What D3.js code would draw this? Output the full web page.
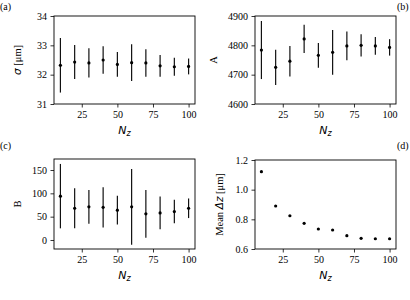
<!DOCTYPE html>
<html>
<head>
<meta charset="utf-8">
<script src="https://cdn.jsdelivr.net/npm/d3@7"></script>
<style>
  body { margin: 0; background: #fff; }
  text { font-family: "Liberation Serif", "Times New Roman", serif; fill: #000; }
  .math { font-family: "DejaVu Sans", sans-serif; font-style: italic; }
</style>
</head>
<body>
<svg id="fig" width="410" height="300"></svg>
<script>
var nz = [10, 20, 30, 40, 50, 60, 70, 80, 90, 100];
var xTicks = [25, 50, 75, 100];

var sigmaVals = [32.32, 32.43, 32.40, 32.50, 32.35, 32.41, 32.40, 32.30, 32.27, 32.28];
var sigmaErr = [0.93, 0.58, 0.50, 0.47, 0.42, 0.63, 0.47, 0.37, 0.31, 0.27];

var aVals = [4784, 4725, 4746, 4822, 4766, 4776, 4798, 4800, 4798, 4793];
var aErr = [99, 60, 52, 48, 42, 76, 49, 38, 30, 28];

var bVals = [94, 68, 71, 70, 64, 71, 56, 58, 61, 68];
var bErr = [69, 43, 36, 43, 31, 81, 51, 35, 25, 21];

var dzVals = [1.121, 0.890, 0.824, 0.773, 0.735, 0.728, 0.690, 0.672, 0.669, 0.669];

var svg = d3.select("#fig");

function panel(opts) {
    var g = svg.append("g");
    var x = d3.scaleLinear().domain([5.5, 104.5]).range([opts.left, opts.right]);
    var y = d3.scaleLinear().domain(opts.ydom).range([opts.bottom, opts.top]);

    var xAxis = d3.axisBottom(x).tickValues(xTicks).tickSize(3.5).tickPadding(3.5);
    var yAxis = d3.axisLeft(y).tickValues(opts.yticks).tickSize(3.5).tickPadding(3.5)
        .tickFormat(opts.yfmt || d3.format("d"));

    var gx = g.append("g").attr("transform", "translate(0," + opts.bottom + ")").call(xAxis);
    var gy = g.append("g").attr("transform", "translate(" + opts.left + ",0)").call(yAxis);
    [gx, gy].forEach(function(a) {
        a.select(".domain").remove();
        a.selectAll("line").attr("stroke", "#000").attr("stroke-width", 0.8);
        a.selectAll("text").style("font-family", "'Liberation Serif', serif").attr("font-size", 10);
    });

    // error bars
    if (opts.err) {
        g.selectAll(".eb").data(nz).enter().append("line")
            .attr("x1", function(d) { return x(d); })
            .attr("x2", function(d) { return x(d); })
            .attr("y1", function(d, i) { return y(opts.vals[i] - opts.err[i]); })
            .attr("y2", function(d, i) { return y(opts.vals[i] + opts.err[i]); })
            .attr("stroke", "#111")
            .attr("stroke-width", 1.2);
    }
    g.selectAll(".pt").data(nz).enter().append("circle")
        .attr("cx", function(d) { return x(d); })
        .attr("cy", function(d, i) { return y(opts.vals[i]); })
        .attr("r", 1.6)
        .attr("fill", "#000");

    g.append("rect")
        .attr("x", opts.left).attr("y", opts.top)
        .attr("width", opts.right - opts.left).attr("height", opts.bottom - opts.top)
        .attr("fill", "none").attr("stroke", "#000").attr("stroke-width", 0.9);

    // x label N_z
    var xl = g.append("text")
        .attr("x", (opts.left + opts.right) / 2)
        .attr("y", opts.bottom + 30)
        .attr("text-anchor", "middle")
        .attr("font-size", 11);
    xl.append("tspan").attr("class", "math").text("N");
    xl.append("tspan").attr("class", "math").attr("font-size", 8).attr("dy", 2).text("z");

    // y label
    var yl = g.append("text")
        .attr("transform", "translate(" + opts.ylx + "," + (opts.top + opts.bottom) / 2 + ") rotate(-90)")
        .attr("text-anchor", "middle")
        .attr("font-size", 10.5);
    opts.ylabel.forEach(function(p) {
        yl.append("tspan").attr("class", p.math ? "math" : null).text(p.t);
    });

    svg.append("text")
        .attr("x", opts.tagx).attr("y", opts.tagy)
        .attr("font-size", 10)
        .text(opts.tag);
}

panel({ left: 54, right: 195, top: 16, bottom: 104, ydom: [31, 34], yticks: [31, 32, 33, 34],
        vals: sigmaVals, err: sigmaErr, ylx: 21,
        ylabel: [{ t: "σ", math: true }, { t: " [μm]" }], tag: "(a)", tagx: 0, tagy: 10 });

panel({ left: 255, right: 396, top: 16, bottom: 104, ydom: [4600, 4900], yticks: [4600, 4700, 4800, 4900],
        vals: aVals, err: aErr, ylx: 217,
        ylabel: [{ t: "A" }], tag: "(b)", tagx: 397, tagy: 10 });

panel({ left: 54, right: 195, top: 159, bottom: 249, ydom: [-19.3, 173.6], yticks: [0, 50, 100, 150],
        vals: bVals, err: bErr, ylx: 21,
        ylabel: [{ t: "B" }], tag: "(c)", tagx: 0, tagy: 149 });

panel({ left: 255, right: 396, top: 160, bottom: 249, ydom: [0.6, 1.2], yticks: [0.6, 0.8, 1.0, 1.2],
        yfmt: d3.format(".1f"),
        vals: dzVals, ylx: 223,
        ylabel: [{ t: "Mean " }, { t: "Δz", math: true }, { t: " [μm]" }], tag: "(d)", tagx: 397, tagy: 149 });
</script>
</body>
</html>
